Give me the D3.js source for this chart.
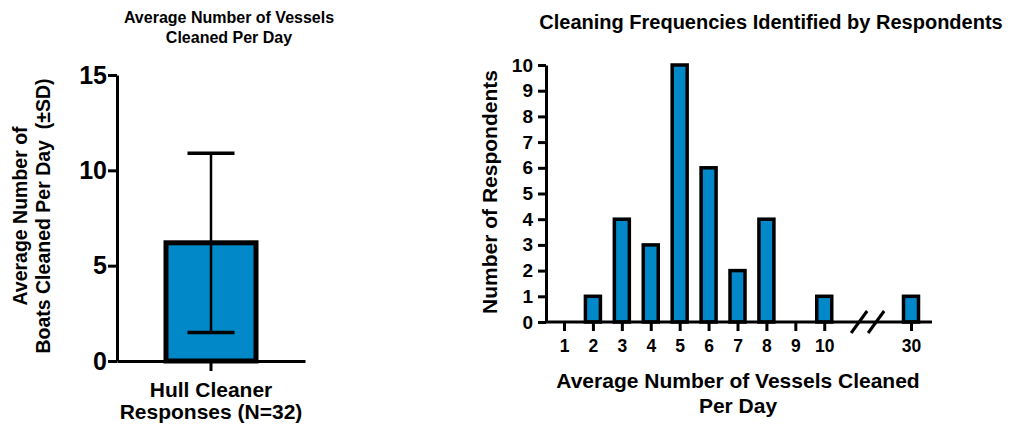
<!DOCTYPE html>
<html>
<head>
<meta charset="utf-8">
<script src="https://cdn.jsdelivr.net/npm/d3@7"></script>
<style>
  body { margin: 0; background: #fff; }
  svg { font-family: "Liberation Sans", Arial, sans-serif; font-weight: bold; }
</style>
</head>
<body>
<svg width="1015" height="425"></svg>
<script>
// left panel: mean +/- SD
const summaryGroups = ["Hull Cleaner Responses (N=32)"];
const summaryMean = [6.2];
const summarySD = [4.7];
const summaryTicks = [0, 5, 10, 15];

// right panel: frequency of answers
const freqCategories = ["1", "2", "3", "4", "5", "6", "7", "8", "9", "10", "30"];
const freqCounts = [0, 1, 4, 3, 10, 6, 2, 4, 0, 1, 1];
const freqTicks = [0, 1, 2, 3, 4, 5, 6, 7, 8, 9, 10];

const blue = "#0088c9";
const svg = d3.select("svg");

// ---------- left chart ----------
const L = {left: 117, right: 305, top: 75, bottom: 361};
const yL = d3.scaleLinear().domain([0, 15]).range([L.bottom, L.top]);
const xL = d3.scaleBand().domain(summaryGroups).range([L.left, L.right]).paddingInner(0).paddingOuter(0.5);

const gL = svg.append("g");

gL.selectAll("rect.bar")
  .data(summaryGroups)
  .enter().append("rect")
  .attr("x", d => xL(d) + xL.bandwidth() / 2 - 45)
  .attr("width", 90)
  .attr("y", (d, i) => yL(summaryMean[i]))
  .attr("height", (d, i) => yL(0) - yL(summaryMean[i]))
  .attr("fill", blue)
  .attr("stroke", "#000")
  .attr("stroke-width", 5);

summaryGroups.forEach((d, i) => {
  const cx = xL(d) + xL.bandwidth() / 2;
  const hi = yL(summaryMean[i] + summarySD[i]);
  const lo = yL(summaryMean[i] - summarySD[i]);
  gL.append("line").attr("x1", cx).attr("x2", cx).attr("y1", hi).attr("y2", lo)
    .attr("stroke", "#000").attr("stroke-width", 2.5);
  [hi, lo].forEach(y => {
    gL.append("line").attr("x1", cx - 23.5).attr("x2", cx + 23.5).attr("y1", y).attr("y2", y)
      .attr("stroke", "#000").attr("stroke-width", 3.5);
  });
});

const yAxisL = gL.append("g")
  .attr("transform", `translate(${L.left},0)`)
  .call(d3.axisLeft(yL).tickValues(summaryTicks).tickSize(9).tickPadding(1).tickSizeOuter(0));
yAxisL.selectAll("text").attr("font-size", 25).attr("font-family", "Liberation Sans, Arial").attr("font-weight", "bold").attr("fill", "#000");

const xAxisL = gL.append("g")
  .attr("transform", `translate(0,${L.bottom})`)
  .call(d3.axisBottom(xL).tickSize(10).tickSizeOuter(0).tickFormat(""));

[yAxisL, xAxisL].forEach(a => {
  a.select(".domain").attr("stroke", "#000").attr("stroke-width", 3);
  a.selectAll(".tick line").attr("stroke", "#000").attr("stroke-width", 3);
});

// category label split in two lines
const cxL = xL(summaryGroups[0]) + xL.bandwidth() / 2;
const catL = gL.append("text").attr("text-anchor", "middle").attr("font-size", 21);
catL.append("tspan").attr("x", cxL).attr("y", 397).text("Hull Cleaner");
catL.append("tspan").attr("x", cxL).attr("y", 419).text("Responses (N=32)");

const titleL = gL.append("text").attr("text-anchor", "middle").attr("font-size", 16);
titleL.append("tspan").attr("x", 229).attr("y", 23).text("Average Number of Vessels");
titleL.append("tspan").attr("x", 229).attr("y", 43).text("Cleaned Per Day");

const yTitleL = gL.append("text").attr("text-anchor", "middle").attr("font-size", 19.5)
  .attr("transform", "translate(0,216) rotate(-90)");
yTitleL.append("tspan").attr("x", 0).attr("y", 27).text("Average Number of");
yTitleL.append("tspan").attr("x", 0).attr("y", 50).text("Boats Cleaned Per Day\u00a0 (±SD)");

// ---------- right chart ----------
const R = {left: 546, right: 932, top: 65, bottom: 322};
// insert two empty slots for the axis break between 10 and 30
const slots = freqCategories.slice(0, 10).concat(["_b1", "_b2"], freqCategories.slice(10));
const xR = d3.scalePoint().domain(slots).range([564, 911]);
const yR = d3.scaleLinear().domain([0, 10]).range([R.bottom, R.top]);

const gR = svg.append("g");

gR.selectAll("rect.bar")
  .data(freqCategories)
  .enter().append("rect")
  .attr("x", d => xR(d) - 7.5)
  .attr("width", 15)
  .attr("y", (d, i) => yR(freqCounts[i]))
  .attr("height", (d, i) => yR(0) - yR(freqCounts[i]))
  .attr("fill", blue)
  .attr("stroke", "#000")
  .attr("stroke-width", 3.5)
  .attr("display", (d, i) => freqCounts[i] > 0 ? null : "none");

const yAxisR = gR.append("g")
  .attr("transform", `translate(${R.left},0)`)
  .call(d3.axisLeft(yR).tickValues(freqTicks).tickSize(8).tickPadding(5).tickSizeOuter(0));
yAxisR.selectAll("text").attr("font-size", 19).attr("font-family", "Liberation Sans, Arial").attr("font-weight", "bold").attr("fill", "#000");

const xAxisR = gR.append("g")
  .attr("transform", `translate(0,${R.bottom})`)
  .call(d3.axisBottom(xR).tickValues(freqCategories).tickSize(9).tickPadding(9).tickSizeOuter(0));
xAxisR.select(".domain").attr("d", `M${R.left},0H${R.right}`);
xAxisR.selectAll("text").attr("font-size", 17.5).attr("font-family", "Liberation Sans, Arial").attr("font-weight", "bold").attr("fill", "#000");

[yAxisR, xAxisR].forEach(a => {
  a.select(".domain").attr("stroke", "#000").attr("stroke-width", 3);
  a.selectAll(".tick line").attr("stroke", "#000").attr("stroke-width", 3);
});

// break marks
const breakX = (xR("_b1") + xR("_b2")) / 2;
[-8.5, 8.5].forEach(dx => {
  gR.append("line")
    .attr("x1", breakX + dx - 8).attr("y1", R.bottom + 11)
    .attr("x2", breakX + dx + 8).attr("y2", R.bottom - 11)
    .attr("stroke", "#000").attr("stroke-width", 3);
});

gR.append("text").attr("x", 771).attr("y", 29).attr("text-anchor", "middle")
  .attr("font-size", 20).text("Cleaning Frequencies Identified by Respondents");

const xTitleR = gR.append("text").attr("text-anchor", "middle").attr("font-size", 21);
xTitleR.append("tspan").attr("x", 738).attr("y", 388).text("Average Number of Vessels Cleaned");
xTitleR.append("tspan").attr("x", 738).attr("y", 413).text("Per Day");

gR.append("text").attr("text-anchor", "middle").attr("font-size", 21)
  .attr("transform", "translate(497,192) rotate(-90)").text("Number of Respondents");
</script>
</body>
</html>
